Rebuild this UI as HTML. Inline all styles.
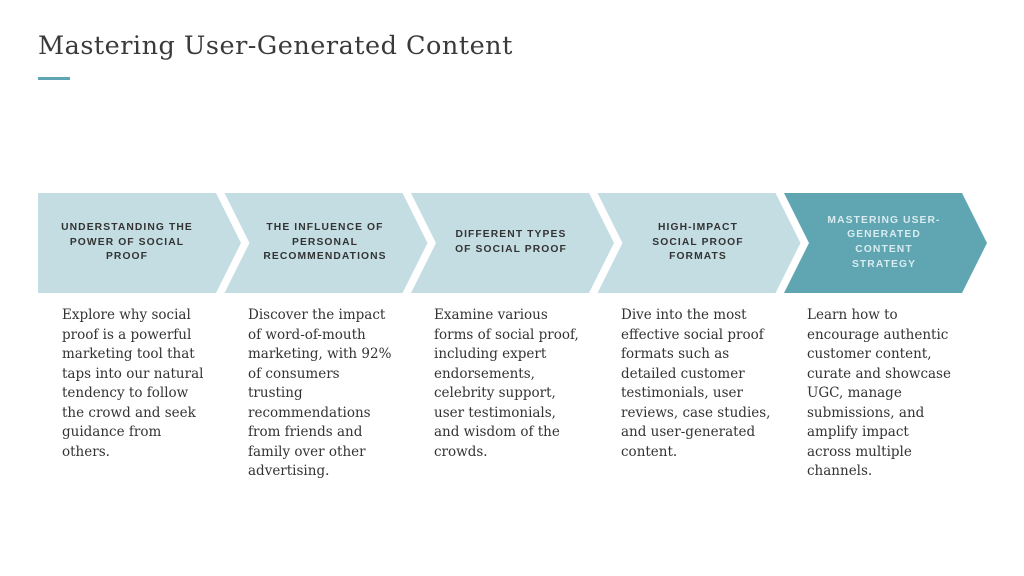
<!DOCTYPE html>
<html><head><meta charset="utf-8"><style>
body{margin:0;width:1024px;height:576px;background:#fff;position:relative;overflow:hidden;font-family:"DejaVu Serif","Liberation Serif",serif;}
h1{position:absolute;left:38px;top:31px;margin:0;font-weight:normal;font-size:25.5px;letter-spacing:0.5px;color:#3a3a3a;white-space:nowrap;}
.ul{position:absolute;left:38px;top:77px;width:32px;height:3px;background:#5fa5b2;}
svg{position:absolute;left:0;top:0;}
.h{position:absolute;top:193px;height:100px;width:170px;display:flex;align-items:center;justify-content:center;text-align:center;font-family:"Liberation Sans",sans-serif;font-weight:bold;font-size:10.3px;letter-spacing:1.1px;line-height:14.7px;color:#333;}
.p{position:absolute;top:306px;font-size:13.5px;letter-spacing:0;line-height:19.5px;color:#333;white-space:nowrap;}
</style></head><body>
<h1>Mastering User-Generated Content</h1>
<div class="ul"></div>
<svg width="1024" height="576">
<polygon points="38,193 216,193 241,243 216,293 38,293" fill="#c3dde3"/>
<polygon points="224.5,193 402.5,193 427.5,243 402.5,293 224.5,293 249.5,243" fill="#c3dde3"/>
<polygon points="411,193 589,193 614,243 589,293 411,293 436,243" fill="#c3dde3"/>
<polygon points="597.5,193 775.5,193 800.5,243 775.5,293 597.5,293 622.5,243" fill="#c3dde3"/>
<polygon points="784,193 962,193 987,243 962,293 784,293 809,243" fill="#5fa5b2"/>
</svg>
<div class="h" style="left:42px">UNDERSTANDING THE<br>POWER OF SOCIAL<br>PROOF</div>
<div class="h" style="left:240px">THE INFLUENCE OF<br>PERSONAL<br>RECOMMENDATIONS</div>
<div class="h" style="left:426px">DIFFERENT TYPES<br>OF SOCIAL PROOF</div>
<div class="h" style="left:613px">HIGH-IMPACT<br>SOCIAL PROOF<br>FORMATS</div>
<div class="h" style="left:799px;color:#d8ecf0">MASTERING USER-<br>GENERATED<br>CONTENT<br>STRATEGY</div>
<div class="p" style="left:62px">Explore why social<br>proof is a powerful<br>marketing tool that<br>taps into our natural<br>tendency to follow<br>the crowd and seek<br>guidance from<br>others.</div>
<div class="p" style="left:248px">Discover the impact<br>of word-of-mouth<br>marketing, with 92%<br>of consumers<br>trusting<br>recommendations<br>from friends and<br>family over other<br>advertising.</div>
<div class="p" style="left:434px">Examine various<br>forms of social proof,<br>including expert<br>endorsements,<br>celebrity support,<br>user testimonials,<br>and wisdom of the<br>crowds.</div>
<div class="p" style="left:621px">Dive into the most<br>effective social proof<br>formats such as<br>detailed customer<br>testimonials, user<br>reviews, case studies,<br>and user-generated<br>content.</div>
<div class="p" style="left:807px">Learn how to<br>encourage authentic<br>customer content,<br>curate and showcase<br>UGC, manage<br>submissions, and<br>amplify impact<br>across multiple<br>channels.</div>
</body></html>
